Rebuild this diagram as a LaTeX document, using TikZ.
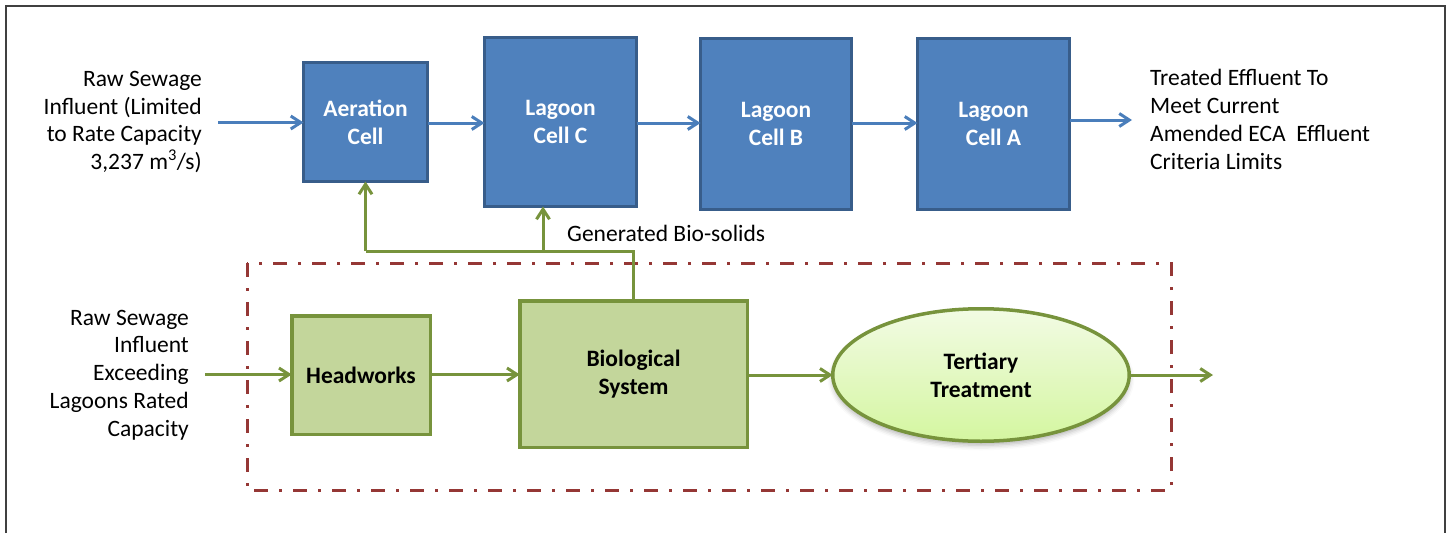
\documentclass[tikz,border=0pt]{standalone}
\usepackage{fontspec}
\setmainfont{Carlito}
\usetikzlibrary{arrows.meta,shapes.geometric,shadows.blur}

\definecolor{cellblue}{HTML}{4F81BD}
\definecolor{cellblueedge}{HTML}{385D8A}
\definecolor{bluearrow}{HTML}{4A7EBB}
\definecolor{greenfill}{HTML}{C3D69B}
\definecolor{greenedge}{HTML}{77933C}
\definecolor{tertiarytop}{HTML}{F2FBE4}
\definecolor{tertiarybottom}{HTML}{D4F6A0}
\definecolor{boundary}{HTML}{953735}
\definecolor{framegray}{HTML}{404040}

\tikzset{
  bodytext/.style={font=\fontsize{23.5}{27.8}\selectfont, inner sep=0pt},
  cellbox/.style={draw=cellblueedge, fill=cellblue, line width=3pt,
    inner sep=0pt, outer sep=0pt, text=white, align=center,
    font=\fontsize{23.5}{28}\selectfont\bfseries},
  unitbox/.style={draw=greenedge, fill=greenfill, line width=3.5pt,
    inner sep=0pt, outer sep=0pt, text=black, align=center,
    font=\fontsize{23.5}{28}\selectfont\bfseries},
  blueflow/.style={draw=bluearrow, line width=3pt,
    -{Straight Barb[length=10pt,width=13pt]}},
  greenflow/.style={draw=greenedge, line width=3pt,
    -{Straight Barb[length=10pt,width=13pt]}},
  greenline/.style={draw=greenedge, line width=3pt},
  boundarybox/.style={draw=boundary, line width=3pt,
    dash pattern=on 14pt off 11pt on 3pt off 11pt},
}

\begin{document}
\begin{tikzpicture}[x=1pt,y=-1pt]
\useasboundingbox (0,0) rectangle (1449,533);

% outer frame
\draw[framegray, line width=1.5pt] (6,533) -- (6,6) -- (1445,6) -- (1445,533);

% existing lagoon train
\node[cellbox, minimum width=124pt, minimum height=119pt] (aer) at (365.5,122) {Aeration\\Cell};
\node[cellbox, minimum width=152pt, minimum height=169pt] (lagC) at (560.5,122) {Lagoon\\Cell C};
\node[cellbox, minimum width=151pt, minimum height=171pt] (lagB) at (776,124) {Lagoon\\Cell B};
\node[cellbox, minimum width=152pt, minimum height=171pt] (lagA) at (993.5,124) {Lagoon\\Cell A};

\node[bodytext, anchor=east, align=right] (rawin) at (202,122)
  {Raw Sewage\\Influent (Limited\\to Rate Capacity\\3,237 m\textsuperscript{3}/s)};
\node[bodytext, anchor=west, align=left] (treated) at (1150,119.5)
  {Treated Effluent To\\Meet Current\\Amended ECA\ \ Effluent\\Criteria Limits};

\coordinate (in1) at (218,122.5);
\coordinate (out1) at (1132,120);
\draw[blueflow] (in1) -- (in1 -| aer.west);
\draw[blueflow] (aer.east |- 0,123) -- (lagC.west |- 0,123);
\draw[blueflow] (lagC.east |- 0,123) -- (lagB.west |- 0,123);
\draw[blueflow] (lagB.east |- 0,123) -- (lagA.west |- 0,123);
\draw[blueflow] (lagA.east |- out1) -- (out1);

% new treatment train
\draw[boundarybox] (247,263) rectangle (1171,490);

\node[unitbox, minimum width=138.5pt, minimum height=118.5pt] (head) at (361,375) {Headworks};
\node[unitbox, minimum width=227.5pt, minimum height=146.5pt] (bio) at (633.5,374) {Biological\\System};
\node[ellipse, draw=greenedge, line width=3.5pt, inner sep=0pt, outer sep=0pt,
  minimum width=296.5pt, minimum height=132.5pt,
  top color=tertiarytop, bottom color=tertiarybottom,
  blur shadow={shadow xshift=0pt, shadow yshift=-4pt, shadow blur radius=5pt, shadow opacity=30},
  align=center, font=\fontsize{23.5}{28}\selectfont\bfseries] (tert) at (981,375) {Tertiary\\Treatment};

\node[bodytext, anchor=east, align=right] (rawex) at (189,375)
  {Raw Sewage\\Influent\\Exceeding\\Lagoons Rated\\Capacity};

\coordinate (in2) at (205,374.5);
\coordinate (out2) at (1213,375);
\draw[greenflow] (in2) -- (in2 -| head.west);
\draw[greenflow] (head.east |- 0,374.5) -- (bio.west |- 0,374.5);
\draw[greenflow] (bio.east |- 0,375) -- (tert.west);
\draw[greenflow] (tert.east) -- (out2);

% bio-solids return to the aeration cell and lagoon cell C
\coordinate (bus) at (543,251);
\draw[greenline] (bio.north -| 633,0) |- (aer.south |- bus);
\draw[greenflow] (aer.south |- bus) -- (aer.south);
\draw[greenflow] (bus) -- (bus |- lagC.south);
\node[bodytext, anchor=base west] (biosolids) at (567,241) {Generated Bio-solids};
\end{tikzpicture}
\end{document}
